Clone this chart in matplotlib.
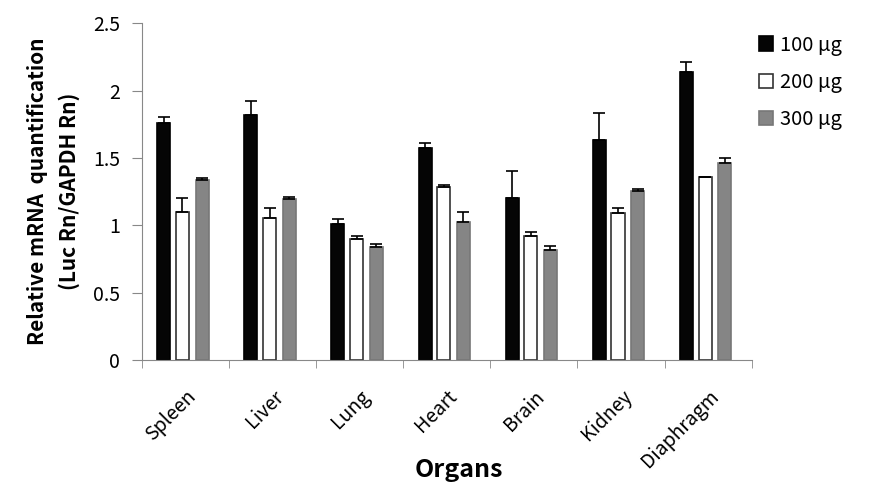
import matplotlib
matplotlib.use('Agg')
import matplotlib.pyplot as plt
import numpy as np

plt.rcParams['font.family'] = ['Noto Sans CJK KR', 'DejaVu Sans']

organs = ['Spleen', 'Liver', 'Lung', 'Heart', 'Brain', 'Kidney', 'Diaphragm']
doses = ['100 µg', '200 µg', '300 µg']

val_100 = [1.76, 1.82, 1.01, 1.57, 1.20, 1.63, 2.14]
err_100 = [0.045, 0.105, 0.033, 0.037, 0.20, 0.20, 0.074]
val_200 = [1.10, 1.05, 0.895, 1.28, 0.917, 1.088, 1.355]
err_200 = [0.10, 0.075, 0.022, 0.022, 0.035, 0.042, 0.005]
val_300 = [1.335, 1.192, 0.836, 1.026, 0.818, 1.256, 1.46]
err_300 = [0.013, 0.02, 0.022, 0.07, 0.025, 0.015, 0.037]

vals = [val_100, val_200, val_300]
errs = [err_100, err_200, err_300]
faces = ['#050505', '#ffffff', '#858585']
edges = ['#000000', '#333333', '#777777']
offsets = [-0.25, -0.035, 0.19]
w = 0.15

fig = plt.figure(figsize=(8.71, 4.93), dpi=100)
ax = fig.add_axes([0.163, 0.270, 0.700, 0.683])

x = np.arange(len(organs))
handles = []
for v, e, fc, ec, off, lab in zip(vals, errs, faces, edges, offsets, doses):
    b = ax.bar(x + off, v, w, color=fc, edgecolor=ec, linewidth=1.2, label=lab,
               yerr=[np.zeros(len(e)), e], capsize=4,
               error_kw=dict(ecolor='black', elinewidth=1.2, capthick=1.2))
    handles.append(b)

ax.set_xlim(-0.5, len(organs) - 0.5)
ax.set_ylim(0, 2.5)
ax.set_yticks([0, 0.5, 1, 1.5, 2, 2.5])
ax.set_yticklabels(['0', '0.5', '1', '1.5', '2', '2.5'], fontsize=14)

ax.set_xticks(x)
ax.set_xticklabels(organs, rotation=45, ha='right', rotation_mode='anchor', fontsize=14)
ax.tick_params(axis='x', which='major', length=0, pad=19)
ax.set_xticks(np.arange(-0.5, len(organs)), minor=True)
ax.tick_params(axis='x', which='minor', length=6, color='#888888')
ax.tick_params(axis='y', length=7, color='#888888', pad=9)

for s in ['top', 'right']:
    ax.spines[s].set_visible(False)
for s in ['left', 'bottom']:
    ax.spines[s].set_color('#888888')

# two-line y label, bold
ax.set_ylabel('Relative mRNA  quantification\n(Luc Rn/GAPDH Rn)', fontsize=15,
              fontweight='bold', linespacing=1.6)
ax.yaxis.set_label_coords(-0.102, 0.5)
ax.set_xlabel('Organs', fontsize=18, fontweight='bold')
ax.xaxis.set_label_coords(0.52, -0.29)

fig.legend(handles=handles, loc='upper left', bbox_to_anchor=(0.871, 0.93),
           frameon=False, fontsize=14.5, handlelength=0.7, handleheight=0.7,
           handletextpad=0.36, labelspacing=0.8, borderpad=0, borderaxespad=0)

fig.savefig('out.png', dpi=100)
